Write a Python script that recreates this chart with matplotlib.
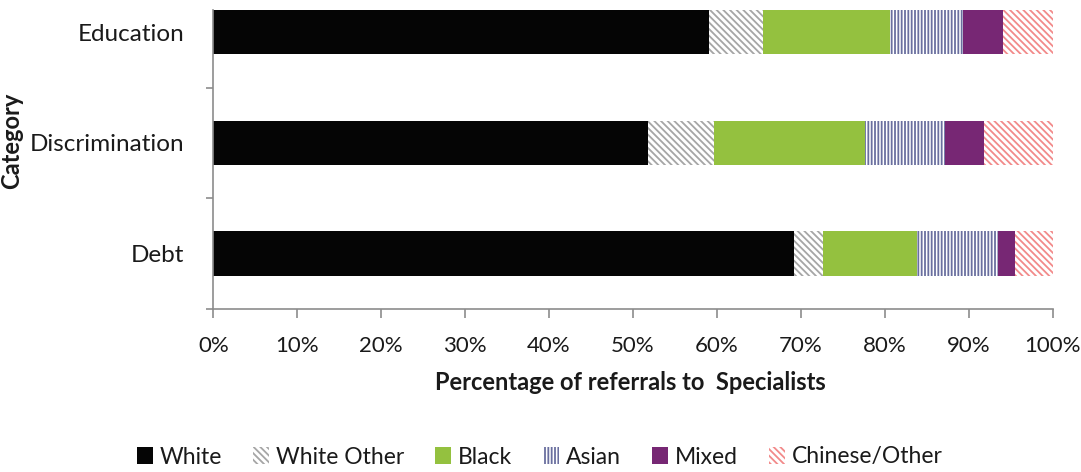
import numpy as np
import matplotlib
matplotlib.use("Agg")
from matplotlib import pyplot as plt
from matplotlib.patches import Patch

# fonts / hatch look
plt.rcParams["font.family"] = ["Lato", "DejaVu Sans"]
plt.rcParams["hatch.linewidth"] = 1.3

# Categories from bottom to top
categories = ["Debt", "Discrimination", "Education"]

# Share of referrals (%) per ethnic group, same order as categories
white = [69.2, 51.8, 59.1]
white_other = [3.4, 7.8, 6.4]
black = [11.3, 18.0, 15.1]
asian = [9.6, 9.6, 8.7]
mixed = [2.0, 4.6, 4.8]
chinese_other = [4.5, 8.2, 5.9]

groups = ["White", "White Other", "Black", "Asian", "Mixed", "Chinese/Other"]
series = [white, white_other, black, asian, mixed, chinese_other]

# (face, edge/hatch colour, hatch)
styles = [
    ("#050505", "#050505", None),
    ("white", "#a6a6a6", "\\\\\\\\\\"),
    ("#94c13f", "#94c13f", None),
    ("white", "#6a6f9f", "|||||"),
    ("#772774", "#772774", None),
    ("white", "#f28a8a", "\\\\\\\\\\"),
]

xtick_vals = np.arange(0, 101, 10)
xtick_labels = [f"{v}%" for v in xtick_vals]

fig = plt.figure(figsize=(10.81, 4.72), dpi=100)
ax = fig.add_axes([213.3 / 1081, 163 / 472, 839.3 / 1081, 299 / 472])

y = np.arange(len(categories))
left = np.zeros(len(categories))
handles = []
for name, vals, (fc, ec, hatch) in zip(groups, series, styles):
    vals = np.array(vals)
    ax.barh(y, vals, left=left, height=0.4, color=fc, edgecolor=ec,
            hatch=hatch, linewidth=0)
    left += vals
    handles.append(Patch(facecolor=fc, edgecolor=ec, hatch=hatch,
                         linewidth=0, label=name))

ax.set_xlim(0, 100)
ax.set_ylim(-0.5, 2.2)

axis_grey = "#8c8c8c"
text_col = "#1a1a1a"
for side in ["top", "right"]:
    ax.spines[side].set_visible(False)
for side in ["left", "bottom"]:
    ax.spines[side].set_color(axis_grey)
    ax.spines[side].set_linewidth(1.2)

ax.set_xticks(xtick_vals)
ax.set_xticklabels(xtick_labels)
ax.tick_params(axis="x", length=6.5, width=1.2, color=axis_grey,
               labelsize=16, labelcolor=text_col, pad=13)

# category boundaries as major ticks, names on minor ticks
ax.set_yticks([-0.5, 0.5, 1.5])
ax.set_yticklabels([])
ax.set_yticks(y, minor=True)
ax.set_yticklabels(categories, minor=True)
ax.tick_params(axis="y", which="major", length=5, width=1.2, color=axis_grey)
ax.tick_params(axis="y", which="minor", length=0, pad=21,
               labelsize=17.5, labelcolor=text_col)

fig.text(630 / 1081, 1 - 383 / 472, "Percentage of referrals to  Specialists",
         ha="center", va="center", fontsize=17, fontweight="bold", color=text_col)
fig.text(12 / 1081, 1 - 141 / 472, "Category", rotation=90,
         ha="center", va="center", fontsize=17, fontweight="bold", color=text_col)

fig.legend(handles=handles, loc="center", bbox_to_anchor=(540 / 1081, 1 - 457 / 472),
           ncol=6, frameon=False, fontsize=16.5, handlelength=0.7, handleheight=0.7,
           handletextpad=0.3, columnspacing=1.35, labelcolor=text_col)

fig.savefig("out.png", dpi=100)
